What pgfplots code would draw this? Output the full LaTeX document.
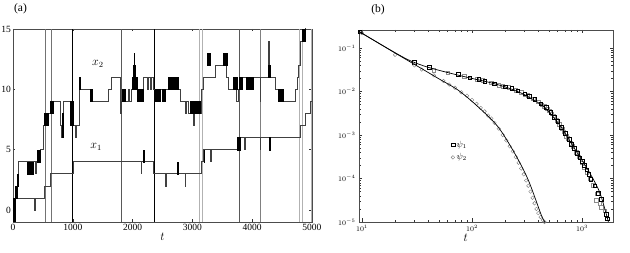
\documentclass[border=0pt]{standalone}
\usepackage{fontspec}
\setmainfont{Liberation Serif}
\usepackage{pgfplots}
\pgfplotsset{compat=1.18}
\newcommand{\blk}[4]{\addplot[black,fill=black,line width=0.2pt] coordinates {(#1,#3) (#2,#3) (#2,#4) (#1,#4)} -- cycle;}
\newcommand{\vl}[2]{\addplot[#2] coordinates {(#1,-1) (#1,15)};}
\begin{document}
\begin{tikzpicture}[x=1pt,y=1pt]
\useasboundingbox (0,0) rectangle (630,253);
\begin{axis}[
  at={(13pt,31pt)}, anchor=south west,
  scale only axis, width=299pt, height=193pt,
  clip mode=individual,
  xmin=0, xmax=5000, ymin=-1, ymax=15,
  xtick={0,1000,2000,3000,4000,5000},
  ytick={0,5,10,15},
  scaled ticks=false,
  /pgf/number format/1000 sep={},
  /pgf/number format/assume math mode=true,
  tick label style={font=\fontsize{9.5}{10}\selectfont},
  tick align=inside, major tick length=2.5pt,
  axis line style={black!70, line width=0.4pt},
  every tick/.style={black!80},
  xticklabel style={yshift=1pt},
  yticklabel style={xshift=1.5pt},
  xlabel={$t$}, xlabel style={font=\fontsize{12}{13}\selectfont, yshift=5pt},
]
\vl{537}{black!55, line width=0.5pt}
\vl{632}{black!55, line width=0.5pt}
\vl{1000}{black, line width=0.9pt}
\vl{1806}{black!65, line width=0.7pt}
\vl{2360}{black, line width=0.9pt}
\vl{3120}{black!30, line width=1.1pt}
\vl{3165}{black!30, line width=1.1pt}
\vl{3785}{black!65, line width=0.7pt}
\vl{4140}{black!50, line width=0.7pt}
\vl{4790}{black!30, line width=1pt}
\vl{4835}{black!30, line width=1pt}
\vl{4985}{black!30, line width=1.2pt}
% x2 trace
\addplot[const plot, black!75, line width=0.55pt] coordinates {
(0,0) (33,1) (61,2) (89,4) (368,3) (395,4) (452,5) (507,7) (580,8) (619,9)
(786,7) (814,6) (842,9) (953,8) (981,7) (1037,6) (1065,7) (1109,11) (1125,10)
(1326,9) (1594,10) (1639,11) (1789,9) (1797,8) (1805,9) (1928,10) (1940,9)
(1984,10) (2068,10) (2179,11) (2250,10) (2262,11) (2300,10) (2312,11) (2350,10)
(2793,9) (2876,8) (2890,9) (2930,8) (3015,7) (3030,8) (3150,10) (3183,11)
(3377,12) (3573,11) (3600,10) (3740,9) (3768,10) (3784,11) (4130,9) (4140,11)
(4269,14) (4280,11)
(4381,10) (4470,9) (4715,10) (4750,11) (4771,12) (4799,14) (4883,16) (5000,16)};
% x1 trace
\addplot[const plot, black!75, line width=0.55pt] coordinates {
(0,0) (33,1) (360,0) (375,1) (524,2) (619,3) (1005,4) (2140,3) (2152,4)
(2346,3) (2550,2) (2562,3) (2876,2) (2888,3) (3150,4) (3183,5) (3300,4) (3312,5)
(3770,6) (3870,5) (3882,6) (4130,5) (4142,6) (4799,7) (4883,8) (4966,9) (5000,9)};
% flicker blocks x2
\blk{0}{30}{-1}{1}
\blk{33}{75}{1}{2}
\blk{61}{89}{2}{3}
\blk{228}{340}{3}{4}
\blk{407}{452}{4}{5}
\blk{524}{580}{7}{8}
\blk{619}{675}{8}{9}
\blk{814}{842}{6}{8}
\blk{953}{1009}{7}{9}
\blk{1109}{1125}{10}{11}
\blk{1287}{1326}{9}{10}
\blk{1817}{1873}{9}{10}
\blk{1984}{2068}{10}{11}
\blk{2012}{2045}{11}{12}
\blk{2025}{2033}{12}{13}
\blk{2079}{2168}{9}{10}
\blk{2374}{2460}{9}{10}
\blk{2487}{2541}{9}{10}
\blk{2597}{2680}{10}{11}
\blk{2700}{2765}{10}{11}
\blk{2960}{3127}{8}{9}
\blk{3239}{3294}{12}{13}
\blk{3517}{3573}{12}{13}
\blk{3684}{3740}{10}{11}
\blk{3784}{3823}{10}{11}
\blk{3896}{3935}{10}{11}
\blk{3950}{4019}{10}{11}
\blk{4269}{4297}{11}{12}
\blk{4436}{4520}{9}{10}
\blk{4827}{4883}{14}{15}
% flicker blocks x1
\blk{2170}{2185}{4}{5}
\blk{2745}{2765}{3}{4}
\blk{3188}{3200}{4}{5}
\blk{3740}{3800}{5}{6}
\blk{4275}{4297}{5}{6}
\node[font=\fontsize{12}{13}\selectfont] at (axis cs:1420,12.1) {$x_2$};
\node[font=\fontsize{12}{13}\selectfont] at (axis cs:1390,5.2) {$x_1$};
\node[font=\fontsize{11.5}{12}\selectfont] at (rel axis cs:0.025,1.105) {(a)};
\end{axis}

\begin{axis}[
  at={(359pt,31pt)}, anchor=south west,
  scale only axis, width=254pt, height=192pt,
  clip mode=individual,
  xmode=log, ymode=log,
  xmin=9.4, xmax=1910, ymin=1e-5, ymax=0.26,
  xtick={10,100,1000}, ytick={1e-5,1e-4,1e-3,1e-2,1e-1},
  tick label style={font=\fontsize{7.5}{8}\selectfont},
  tick align=inside, major tick length=3.5pt, minor tick length=2pt,
  axis line style={black!70, line width=0.4pt},
  every tick/.style={black!80},
  xlabel={$t$}, xlabel style={font=\fontsize{12}{13}\selectfont, at={(axis description cs:0.42,-0.045)}, anchor=north, yshift=0pt},
  legend style={at={(axis description cs:0.35,0.445)}, anchor=north west, draw=none, fill=none, font=\fontsize{9}{10}\selectfont, row sep=1pt},
  legend cell align=left,
]
% psi1 gray squares
\addplot[only marks, mark=square, mark size=1.8pt, black!45, forget plot] coordinates {
(45,0.031) (60,0.027) (85,0.0225) (110,0.0195) (125,0.018) (150,0.0158) (175,0.0142)
(190,0.0133) (215,0.0124) (250,0.0108) (280,0.0095) (300,0.0088) (320,0.0082)
(360,0.0068) (400,0.0058) (430,0.0050) (450,0.0046) (480,0.0040) (500,0.0036)
(530,0.0031) (550,0.0028) (590,0.0022) (620,0.0018) (660,0.0014) (680,0.0012)
(720,9.5e-4) (740,8.5e-4) (790,6.5e-4) (820,5.5e-4) (880,4.0e-4) (930,3.2e-4)
(1000,2.3e-4) (1050,1.8e-4) (1100,1.35e-4) (1180,1.0e-4) (1250,7e-5)
(1350,3.2e-5) (1380,4.5e-5) (1450,2.7e-5) (1500,2.2e-5) (1600,1.8e-5)};
% psi1 black squares
\addplot[only marks, mark=square, mark size=1.8pt, black] coordinates {
(9.5,0.24) (30,0.047) (41,0.036) (75,0.025) (95,0.021) (115,0.019) (130,0.0175)
(160,0.0152) (200,0.0130) (230,0.0118) (260,0.0104) (300,0.0090) (330,0.0078)
(370,0.0066) (420,0.0053) (470,0.0043) (520,0.0033) (560,0.0026) (600,0.0021)
(650,0.0015) (700,0.0011) (760,8.0e-4) (800,6.2e-4) (850,4.9e-4) (900,3.8e-4)
(950,3.0e-4) (1000,2.5e-4) (1050,2.0e-4) (1100,1.6e-4) (1150,1.25e-4)
(1200,9.5e-5) (1300,6.8e-5) (1400,4.6e-5) (1500,3.3e-5) (1650,1.5e-5) (1700,1.2e-5)};
\addlegendentry{$\psi_1$}
% psi2 circles
\addplot[only marks, mark=o, mark size=1.8pt, black!50] coordinates {
(10,0.22) (20,0.070) (30,0.040) (35,0.032) (45,0.0235) (55,0.0175) (62,0.0145)
(70,0.0122) (80,0.0096) (90,0.0080) (100,0.0064) (110,0.0052) (120,0.0042)
(130,0.0035) (140,0.0028) (150,0.0024) (160,0.0019) (175,0.0014) (190,0.0010)
(205,7.5e-4) (220,5.5e-4) (235,4.2e-4) (250,3.1e-4) (265,2.3e-4) (280,1.7e-4)
(295,1.25e-4) (310,9.0e-5) (325,6.8e-5) (340,5.0e-5) (355,3.6e-5) (370,2.7e-5)
(385,2.0e-5) (400,1.6e-5) (420,1.3e-5) (440,1.1e-5) (455,1.0e-5)};
\addlegendentry{$\psi_2$}
% fit curves
\addplot[black, line width=0.7pt, smooth, forget plot] coordinates {
(9.4,0.24) (20,0.078) (28,0.050) (40,0.036) (65,0.026) (100,0.020)
(140,0.0165) (200,0.0128) (280,0.0092) (350,0.0068) (415,0.0052) (490,0.0036)
(631,0.00165) (833,5.4e-4) (1000,2.6e-4) (1179,1.32e-4) (1456,4.6e-5) (1735,1.0e-5)};
\addplot[black, line width=0.7pt, smooth, forget plot] coordinates {
(9.4,0.24) (20,0.077) (30,0.042) (40,0.0274) (50,0.0196) (75,0.0107) (113,0.0045)
(172,0.00155) (244,3.8e-4) (324,9.3e-5) (428,1.4e-5) (461,1.0e-5)};
\node[font=\fontsize{11.5}{12}\selectfont] at (rel axis cs:0.075,1.105) {(b)};
\end{axis}
\end{tikzpicture}
\end{document}
